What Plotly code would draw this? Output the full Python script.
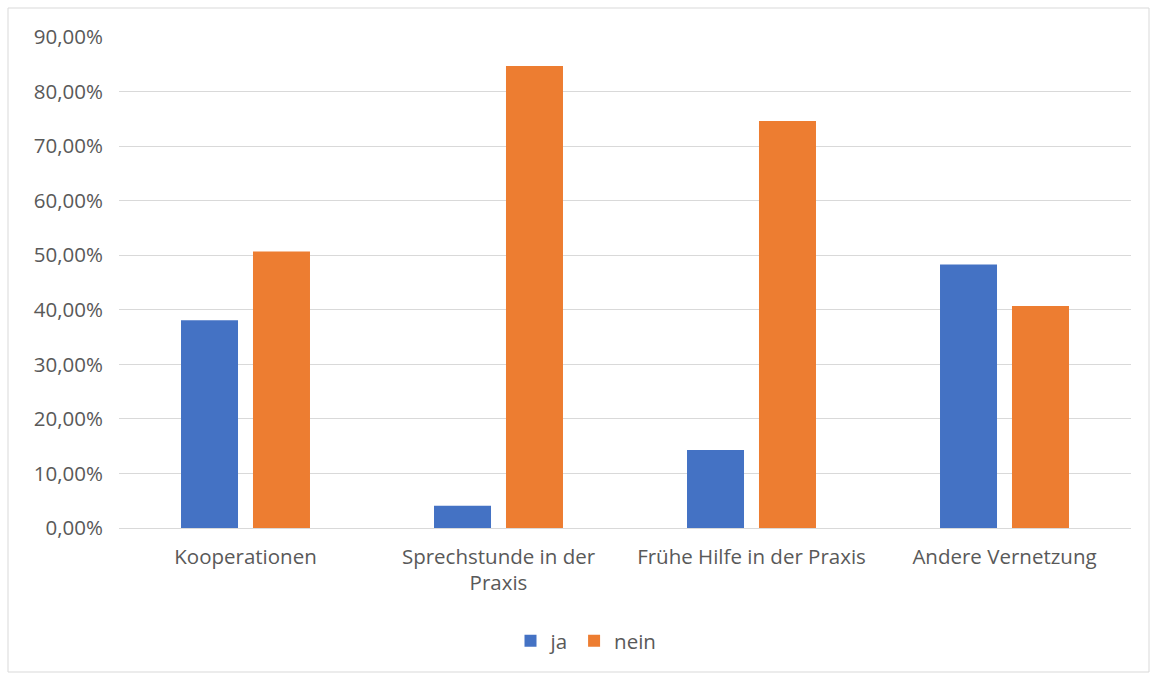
import plotly.graph_objects as go

categories = ["Kooperationen", "Sprechstunde in der<br>Praxis", "Frühe Hilfe in der Praxis", "Andere Vernetzung"]
ja = [38.1, 4.1, 14.3, 48.3]
nein = [50.7, 84.7, 74.6, 40.7]
y_ticks = [0, 10, 20, 30, 40, 50, 60, 70, 80, 90]
y_tick_labels = [f"{v},00%" for v in y_ticks]

W, H = 1150, 675
ml, mr, mt, mb = 119, 19, 37, 147
pw, ph = W - ml - mr, H - mt - mb

FS = 20.5
FAM = "'Open Sans', Lato, sans-serif"
font = dict(family=FAM, size=FS, color="#595959")

fig = go.Figure()
fig.add_trace(go.Bar(name="ja", x=categories, y=ja, marker=dict(color="#4472C4", line=dict(width=0))))
fig.add_trace(go.Bar(name="nein", x=categories, y=nein, marker=dict(color="#ED7D31", line=dict(width=0))))

fig.update_layout(
    width=W, height=H,
    margin=dict(l=ml, r=mr, t=mt, b=mb),
    paper_bgcolor="white", plot_bgcolor="white",
    barmode="group", bargap=0.431, bargroupgap=0.208,
    font=font,
    showlegend=True,
    legend=dict(orientation="h", x=(586 - ml) / pw, xanchor="center",
                y=-(641 - 528) / ph, yanchor="middle", font=dict(family=FAM, size=FS, color="#595959"),
                itemwidth=30, tracegroupgap=0),
    xaxis=dict(showgrid=False, showline=False, ticks="", ticklabelstandoff=14,
               tickfont=dict(family=FAM, size=FS, color="#595959")),
    yaxis=dict(range=[0, 90], tickvals=y_ticks, ticktext=y_tick_labels,
               showgrid=True, gridcolor="#d9d9d9", gridwidth=1, zeroline=True,
               zerolinecolor="#d9d9d9", zerolinewidth=1, showline=False, ticks="",
               ticklabelstandoff=15,
               tickfont=dict(family=FAM, size=FS, color="#595959")),
    shapes=[dict(type="rect", xref="paper", yref="paper",
                 x0=(8 - ml) / pw, x1=(1149 - ml) / pw,
                 y0=-(672 - 528) / ph, y1=1 + (mt - 8) / ph,
                 line=dict(color="#d9d9d9", width=1), fillcolor="rgba(0,0,0,0)", layer="below")],
)

fig.write_html("out.html")
